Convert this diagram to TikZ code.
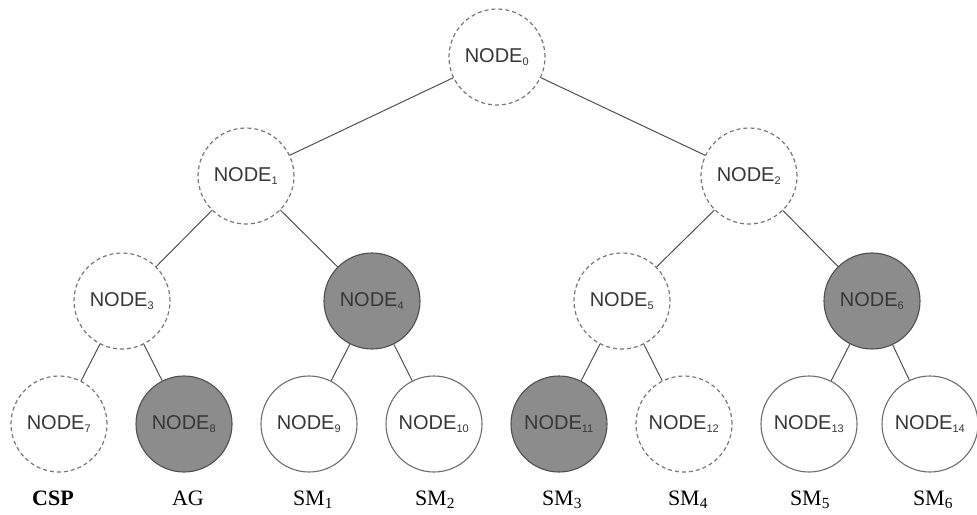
\documentclass[tikz,border=0pt]{standalone}
\usepackage{fontspec}
\setmainfont{Liberation Serif}
\setsansfont{Liberation Sans}
\definecolor{txtgray}{RGB}{55,55,55}
\definecolor{rimgray}{RGB}{110,110,110}
\definecolor{dashgray}{RGB}{120,120,120}
\definecolor{fillgray}{RGB}{140,140,140}
\definecolor{edgegray}{RGB}{80,80,80}
\tikzset{
  treenode/.style={circle, minimum size=96pt, inner sep=0pt,
    font=\sffamily\fontsize{20}{22}\selectfont, text=txtgray},
  openbox/.style={treenode, draw=dashgray, line width=1.2pt, dash pattern=on 4pt off 3pt, fill=white},
  plainbox/.style={treenode, draw=rimgray, line width=1.1pt, fill=white},
  shadedbox/.style={treenode, draw=edgegray, line width=1.1pt, fill=fillgray},
  edge/.style={draw=edgegray, line width=1pt},
  caption/.style={anchor=base, font=\fontsize{22}{24}\selectfont, text=black}
}
\newcommand{\nd}[1]{NODE\textsubscript{\fontsize{11}{12}\selectfont #1}}
\begin{document}
\begin{tikzpicture}[x=1pt, y=-1pt]
  \useasboundingbox (0,0) rectangle (977,514);
  % root and inner levels
  \node[openbox]   (n0)  at (497,57)  {\nd{0}};
  \node[openbox]   (n1)  at (246,176) {\nd{1}};
  \node[openbox]   (n2)  at (749,176) {\nd{2}};
  \node[openbox]   (n3)  at (122,301) {\nd{3}};
  \node[shadedbox] (n4)  at (372,301) {\nd{4}};
  \node[openbox]   (n5)  at (622,301) {\nd{5}};
  \node[shadedbox] (n6)  at (872,301) {\nd{6}};
  % leaves
  \node[openbox]   (n7)  at (59,424)  {\nd{7}};
  \node[shadedbox] (n8)  at (184,424) {\nd{8}};
  \node[plainbox]  (n9)  at (309,424) {\nd{9}};
  \node[plainbox]  (n10) at (434,424) {\nd{10}};
  \node[shadedbox] (n11) at (559,424) {\nd{11}};
  \node[openbox]   (n12) at (684,424) {\nd{12}};
  \node[plainbox]  (n13) at (809,424) {\nd{13}};
  \node[plainbox]  (n14) at (930,424) {\nd{14}};
  % tree edges
  \foreach \p/\c in {n0/n1,n0/n2,n1/n3,n1/n4,n2/n5,n2/n6,
                     n3/n7,n3/n8,n4/n9,n4/n10,n5/n11,n5/n12,n6/n13,n6/n14}
    \draw[edge] (\p) -- (\c);
  % roles of the leaves
  \node[caption] (c7)  at (53,505)  {\textbf{CSP}};
  \node[caption] (c8)  at (188,505) {AG};
  \node[caption] (c9)  at (313,505) {SM\textsubscript{1}};
  \node[caption] (c10) at (435,505) {SM\textsubscript{2}};
  \node[caption] (c11) at (562,505) {SM\textsubscript{3}};
  \node[caption] (c12) at (688,505) {SM\textsubscript{4}};
  \node[caption] (c13) at (810,505) {SM\textsubscript{5}};
  \node[caption] (c14) at (933,505) {SM\textsubscript{6}};
\end{tikzpicture}
\end{document}
